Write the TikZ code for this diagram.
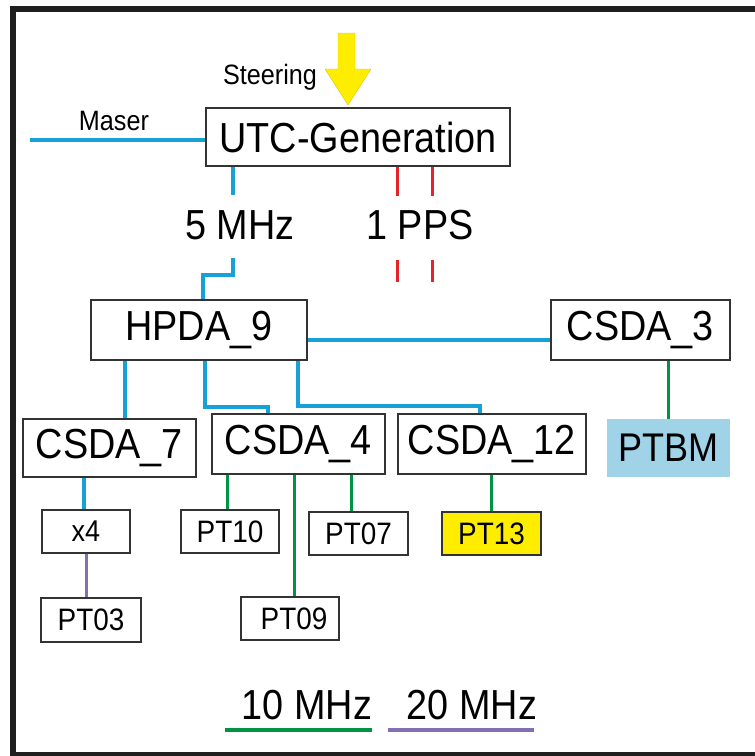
\documentclass[tikz,border=0pt]{standalone}
\usepackage{fontspec}
\setmainfont{Liberation Sans}[FakeStretch=0.9]
\definecolor{linkblue}{RGB}{25,160,215}
\definecolor{linkgreen}{RGB}{0,146,69}
\definecolor{linkpurple}{RGB}{130,112,178}
\definecolor{ppsred}{RGB}{230,35,40}
\definecolor{ptbmblue}{RGB}{160,210,232}
\definecolor{steeryellow}{RGB}{255,237,0}
\tikzset{
  unit/.style={draw=black!80,line width=1.2pt,inner sep=0pt,font=\fontsize{42}{44}\selectfont},
  clock/.style={draw=black!80,line width=1.2pt,inner sep=0pt,font=\fontsize{31}{33}\selectfont},
  lbl/.style={inner sep=0pt,font=\fontsize{42}{44}\selectfont},
  small/.style={inner sep=0pt,font=\fontsize{28}{30}\selectfont},
  blue link/.style={draw=linkblue,line width=3.5pt},
  green link/.style={draw=linkgreen,line width=3pt},
  purple link/.style={draw=linkpurple,line width=3pt},
  pps/.style={draw=ppsred,line width=3pt}
}
\begin{document}
\begin{tikzpicture}[x=1pt,y=-1pt]
 \useasboundingbox (0,0) rectangle (755,756);
 \begin{scope}
  \clip (0,0) rectangle (755,756);
  \draw[black!88,line width=6pt] (770,8.5) -- (13,8.5) -- (13,755) -- (770,755);
 \end{scope}
 % source and steering
 \fill[steeryellow,draw=steeryellow!85!black,line width=0.4pt] (338,33) -- (355,33) -- (355,69) -- (371,69) -- (348,105) -- (325,69) -- (338,69) -- cycle;
 \node[small] (steer) at (270,77) {Steering};
 \node[small] (maserlbl) at (114,121) {Maser};
 \node[unit,minimum width=304pt,minimum height=58pt] (utc) at (358,137) {UTC-Generation};
 \coordinate (maser) at (30,140);
 \draw[blue link] (maser) -- (maser -| utc.west);
 % outputs
 \node[lbl] (five) at (240,225) {5 MHz};
 \node[lbl] (pps) at (420,225) {1 PPS};
 \draw[blue link] (utc.south -| 233,0) -- (233,195);
 \foreach \x in {397,432} {
  \draw[pps] (utc.south -| \x,0) -- (\x,196);
  \draw[pps] (\x,260) -- (\x,282);
 }
 % distribution amplifiers
 \node[unit,minimum width=216pt,minimum height=60pt] (hpda) at (199,330) {HPDA\_9};
 \node[unit,minimum width=179pt,minimum height=60pt] (csda3) at (640.5,330) {CSDA\_3};
 \node[unit,minimum width=173pt,minimum height=58pt] (csda7) at (109.5,448) {CSDA\_7};
 \node[unit,minimum width=173pt,minimum height=60pt] (csda4) at (298.5,444) {CSDA\_4};
 \node[unit,minimum width=188pt,minimum height=60pt] (csda12) at (492,444) {CSDA\_12};
 \node[fill=ptbmblue,inner sep=0pt,minimum width=123pt,minimum height=58pt,font=\fontsize{40}{42}\selectfont] (ptbm) at (668.5,448) {PTBM};
 \draw[blue link] (233,258) -- (233,275) -- (203,275) -- (hpda.north -| 203,0);
 \draw[blue link] ([yshift=-10pt]hpda.east) -- ([yshift=-10pt]csda3.west);
 \draw[blue link] (hpda.south -| 125,0) -- (csda7.north -| 125,0);
 \draw[blue link] (hpda.south -| 205,0) -- (205,407) -- (268,407) -- (csda4.north -| 268,0);
 \draw[blue link] (hpda.south -| 298,0) -- (298,406) -- (480,406) -- (csda12.north -| 480,0);
 \draw[green link] (csda3.south -| ptbm.north) -- (ptbm.north);
 % clocks
 \node[clock,minimum width=88pt,minimum height=43pt,font=\fontsize{30}{32}\selectfont] (x4) at (86,531.5) {x4};
 \node[clock,minimum width=100pt,minimum height=44pt] (pt03) at (91,620) {PT03};
 \node[clock,minimum width=98pt,minimum height=43pt] (pt10) at (230,531.5) {PT10};
 \node[clock,minimum width=99pt,minimum height=43pt] (pt07) at (358.5,533.5) {PT07};
 \node[clock,fill=steeryellow,minimum width=99pt,minimum height=43pt] (pt13) at (491.5,533.5) {PT13};
 \node[clock,minimum width=98pt,minimum height=43pt,text width=98pt,align=center] (pt09) at (290,618.5) {\hspace*{8pt}PT09};
 \draw[blue link] (csda7.south -| 84,0) -- (x4.north -| 84,0);
 \draw[purple link] (x4.south) -- (x4.south |- pt03.north);
 \draw[green link] (csda4.south -| 227,0) -- (pt10.north -| 227,0);
 \draw[green link] (csda4.south -| 294,0) -- (pt09.north -| 294,0);
 \draw[green link] (csda4.south -| 351,0) -- (pt07.north -| 351,0);
 \draw[green link] (csda12.south -| pt13.north) -- (pt13.north);
 % legend
 \node[lbl] (ten) at (307,705) {10 MHz};
 \node[lbl] (twenty) at (472,705) {20 MHz};
 \draw[green link,line width=3.5pt] (225,730) -- (372,730);
 \draw[purple link,line width=3.5pt] (388,730) -- (534,730);
\end{tikzpicture}
\end{document}
